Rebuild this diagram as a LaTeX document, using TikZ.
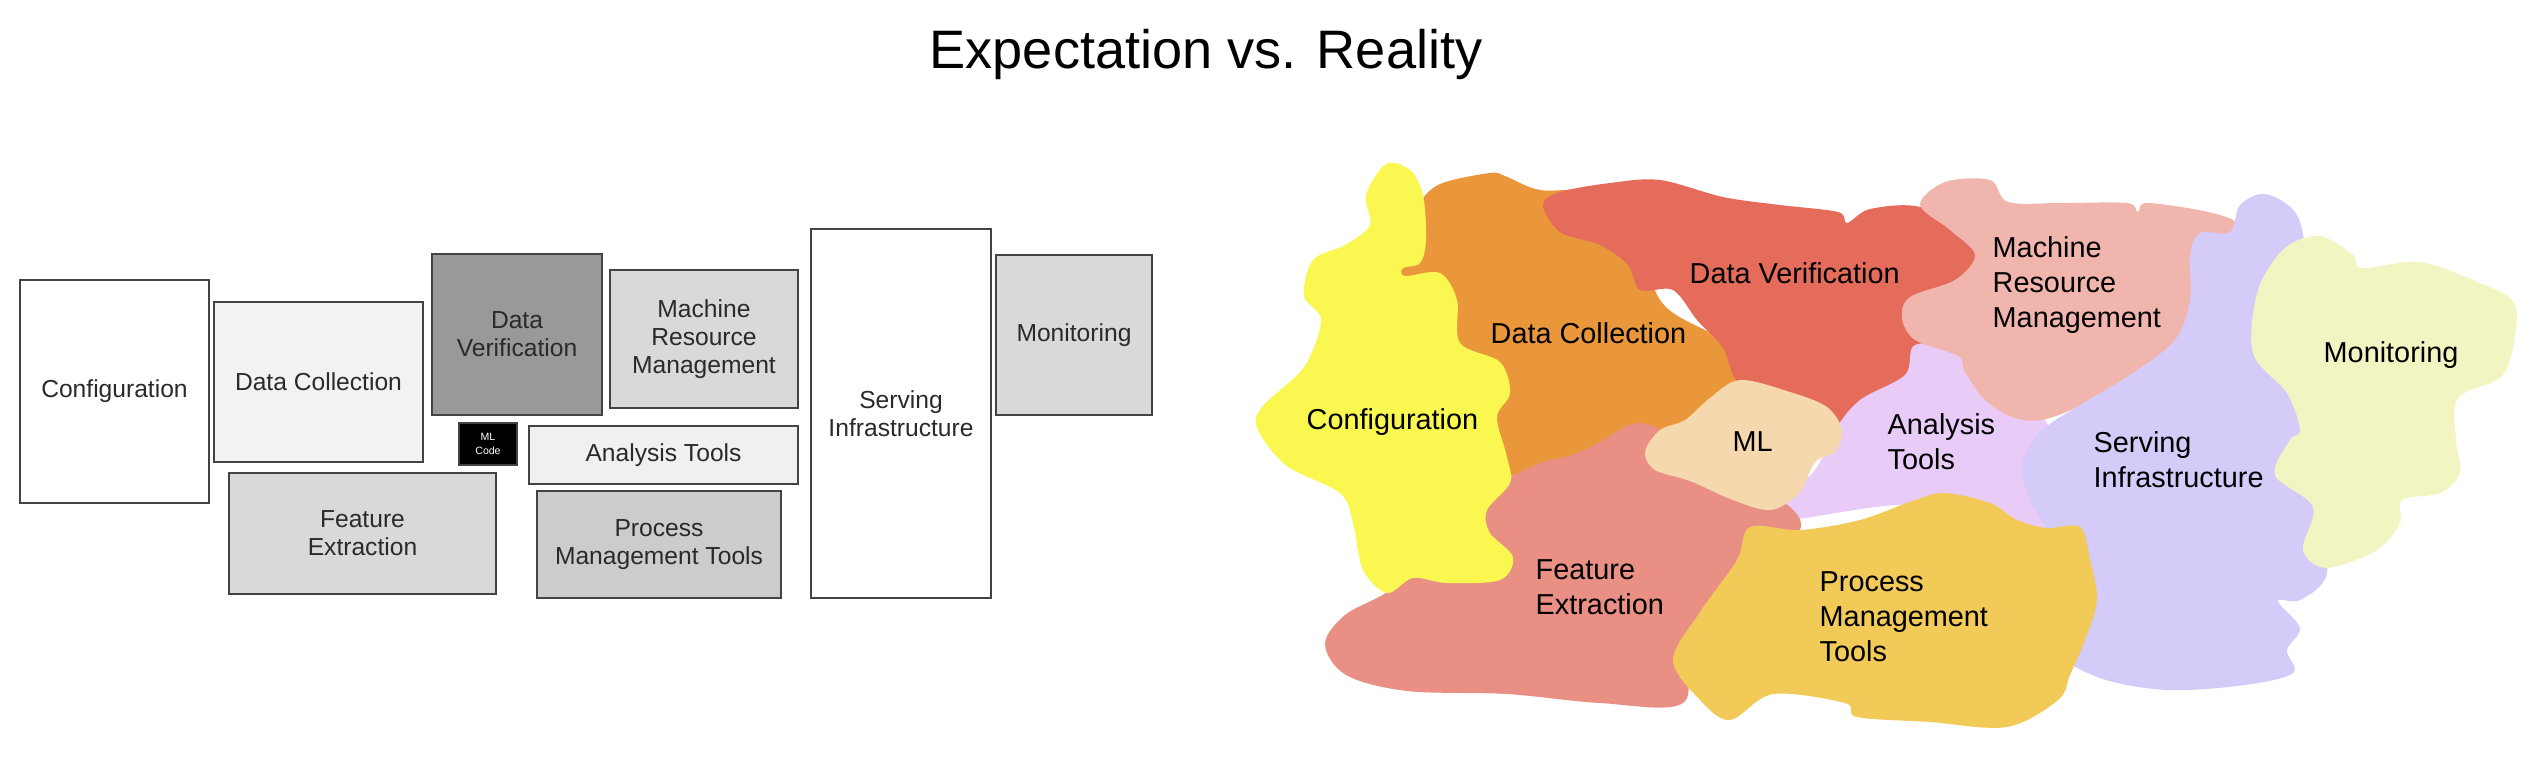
\documentclass[tikz,border=0pt]{standalone}
\usepackage{fontspec}
\setmainfont{Liberation Sans}

\definecolor{boxline}{HTML}{434343}
\definecolor{boxtext}{HTML}{2A2A2A}
\definecolor{cfgCol}{HTML}{FAF751}
\definecolor{dcCol}{HTML}{E9973A}
\definecolor{dvCol}{HTML}{E56B5B}
\definecolor{mrmCol}{HTML}{F0B6AE}
\definecolor{mlCol}{HTML}{F5D8AE}
\definecolor{atCol}{HTML}{E8CCF7}
\definecolor{siCol}{HTML}{D4CBF9}
\definecolor{monCol}{HTML}{F2F5C1}
\definecolor{feCol}{HTML}{E98F84}
\definecolor{pmtCol}{HTML}{F2CA58}

\tikzset{
	box/.style={rectangle,draw=boxline,line width=0.7pt,inner sep=1pt,align=center,
		text=boxtext,font=\fontsize{7}{8}\selectfont},
	blobtext/.style={anchor=west,align=left,inner sep=0pt,font=\fontsize{8.2}{10}\selectfont},
	blob/.style={smooth cycle,tension=0.55}
}

\def\expectation{
	\path (114.5,391.5) node(cfgBox) [box,fill=white,minimum width=1.89cm,minimum height=2.23cm] {Configuration}
			(318.5,382) node(dcBox) [box,fill=black!5,minimum width=2.09cm,minimum height=1.60cm] {Data Collection}
			(517,334.5) node(dvBox) [box,fill=black!40,minimum width=1.70cm,minimum height=1.61cm] {Data\\Verification}
			(704,339) node(mrmBox) [box,fill=black!15,minimum width=1.88cm,minimum height=1.38cm] {Machine\\Resource\\Management}
			(488,444) node(mlBox) [box,fill=black,text=white,minimum width=0.58cm,minimum height=0.42cm,
				font=\fontsize{3}{3.8}\selectfont] {ML\\Code}
			(663.5,455) node(atBox) [box,fill=black!6,minimum width=2.69cm,minimum height=0.58cm] {Analysis Tools}
			(362.5,533.5) node(feBox) [box,fill=black!15,minimum width=2.67cm,minimum height=1.21cm] {Feature\\Extraction}
			(659,544.5) node(pmtBox) [box,fill=black!20,minimum width=2.44cm,minimum height=1.07cm] {Process\\Management Tools}
			(901,413.5) node(siBox) [box,fill=white,minimum width=1.80cm,minimum height=3.69cm] {Serving\\Infrastructure}
			(1074,335) node(monBox) [box,fill=black!15,minimum width=1.56cm,minimum height=1.60cm] {Monitoring};
}
\def\reality{
	% regions, back to front
	\fill[dcCol] plot[blob] coordinates {(1418,205) (1440,184) (1490,173) (1505,176) (1540,190) (1590,190)
		(1630,205) (1660,300) (1720,340) (1745,385) (1700,425) (1620,440) (1540,470) (1470,470) (1400,380)
		(1395,300) (1400,240)};
	\fill[dvCol] plot[blob] coordinates {(1543,205) (1560,192) (1610,183) (1660,180) (1723,197) (1780,205)
		(1838,212) (1847,223) (1870,209) (1920,207) (1965,235) (1975,260) (1960,320) (1930,385) (1870,420)
		(1800,425) (1740,385) (1723,348) (1697,320) (1673,290) (1640,290) (1628,265) (1600,245) (1560,232)};
	\fill[atCol] plot[blob] coordinates {(1835,430) (1860,400) (1905,375) (1915,345) (1960,350) (2000,395)
		(2045,420) (2060,480) (2060,530) (1990,520) (1900,505) (1770,520) (1815,470)};
	\fill[mrmCol] plot[blob] coordinates {(1920,205) (1945,182) (1990,180) (2008,202) (2060,203) (2127,203)
		(2138,212) (2150,203) (2233,220) (2245,260) (2200,300) (2180,340) (2110,390) (2050,418) (2015,418)
		(1985,400) (1965,372) (1958,356) (1915,340) (1902,318) (1910,297) (1955,280) (1975,255) (1950,230)};
	\fill[siCol] plot[blob] coordinates {(2190,255) (2200,233) (2230,232) (2240,205) (2265,194) (2295,212)
		(2305,250) (2300,300) (2330,400) (2320,500) (2327,573) (2300,600) (2278,601) (2300,628) (2287,650)
		(2293,673) (2245,685) (2167,690) (2100,678) (2055,650) (2050,600) (2045,530) (2030,500) (2022,465)
		(2040,432) (2080,405) (2130,375) (2175,340) (2190,300)};
	\fill[feCol] plot[blob] coordinates {(1500,482) (1540,463) (1572,455) (1600,442) (1632,424) (1660,430)
		(1700,470) (1780,500) (1800,530) (1750,560) (1690,640) (1683,703) (1600,703) (1507,694) (1407,691)
		(1346,675) (1325,644) (1345,615) (1387,592) (1420,560) (1450,500)};
	\fill[mlCol] plot[blob] coordinates {(1645,452) (1660,430) (1685,420) (1710,398) (1740,380) (1790,392)
		(1827,407) (1842,430) (1835,452) (1815,462) (1800,492) (1771,510) (1733,500) (1690,481) (1655,470)};
	\fill[pmtCol] plot[blob] coordinates {(1750,527) (1800,530) (1860,520) (1915,500) (1945,493) (1990,503)
		(2017,520) (2047,528) (2080,527) (2090,560) (2097,600) (2085,640) (2070,675) (2058,700) (2007,727)
		(1930,722) (1857,717) (1845,703) (1773,694) (1730,720) (1700,700) (1673,660) (1700,612) (1737,560)};
	\fill[cfgCol] plot[blob] coordinates {(1386,164) (1410,170) (1423,195) (1426,240) (1420,263) (1403,268)
		(1405,276) (1440,273) (1457,300) (1460,343) (1500,362) (1510,393) (1497,417) (1507,457) (1510,483)
		(1487,510) (1490,533) (1513,557) (1500,580) (1447,583) (1413,578) (1387,593) (1363,570) (1353,523)
		(1340,493) (1287,466) (1258,430) (1262,407) (1304,367) (1321,320) (1304,296) (1313,260) (1345,245)
		(1370,225) (1366,195)};
	\fill[monCol] plot[blob] coordinates {(2285,248) (2320,236) (2353,255) (2362,268) (2420,262) (2480,283)
		(2512,300) (2516,327) (2503,375) (2458,398) (2456,440) (2460,473) (2440,493) (2402,500) (2400,523)
		(2377,550) (2327,568) (2303,550) (2313,507) (2275,475) (2290,440) (2300,430) (2287,393) (2253,353)
		(2258,290)};
	% labels
	\path (1306,422) node(cfgLbl) [blobtext] {Configuration}
			(1490,333) node(dcLbl) [blobtext] {Data Collection}
			(1689,273) node(dvLbl) [blobtext] {Data Verification}
			(1992,285) node(mrmLbl) [blobtext] {Machine\\Resource\\Management}
			(1732,442) node(mlLbl) [blobtext] {ML}
			(1887,442) node(atLbl) [blobtext] {Analysis\\Tools}
			(2093,460) node(siLbl) [blobtext] {Serving\\Infrastructure}
			(2323,355) node(monLbl) [blobtext] {Monitoring}
			(1535,587) node(feLbl) [blobtext] {Feature\\Extraction}
			(1819,617) node(pmtLbl) [blobtext] {Process\\Management\\Tools};
}

\begin{document}
\begin{tikzpicture}[x=0.01cm,y=-0.01cm]
\useasboundingbox (0,0) rectangle (2532,766);
\node (title) [anchor=base,inner sep=0pt,font=\fontsize{15.4}{18}\selectfont] at (1206,68) {Expectation vs. Reality};
\expectation
\reality
\end{tikzpicture}
\end{document}
